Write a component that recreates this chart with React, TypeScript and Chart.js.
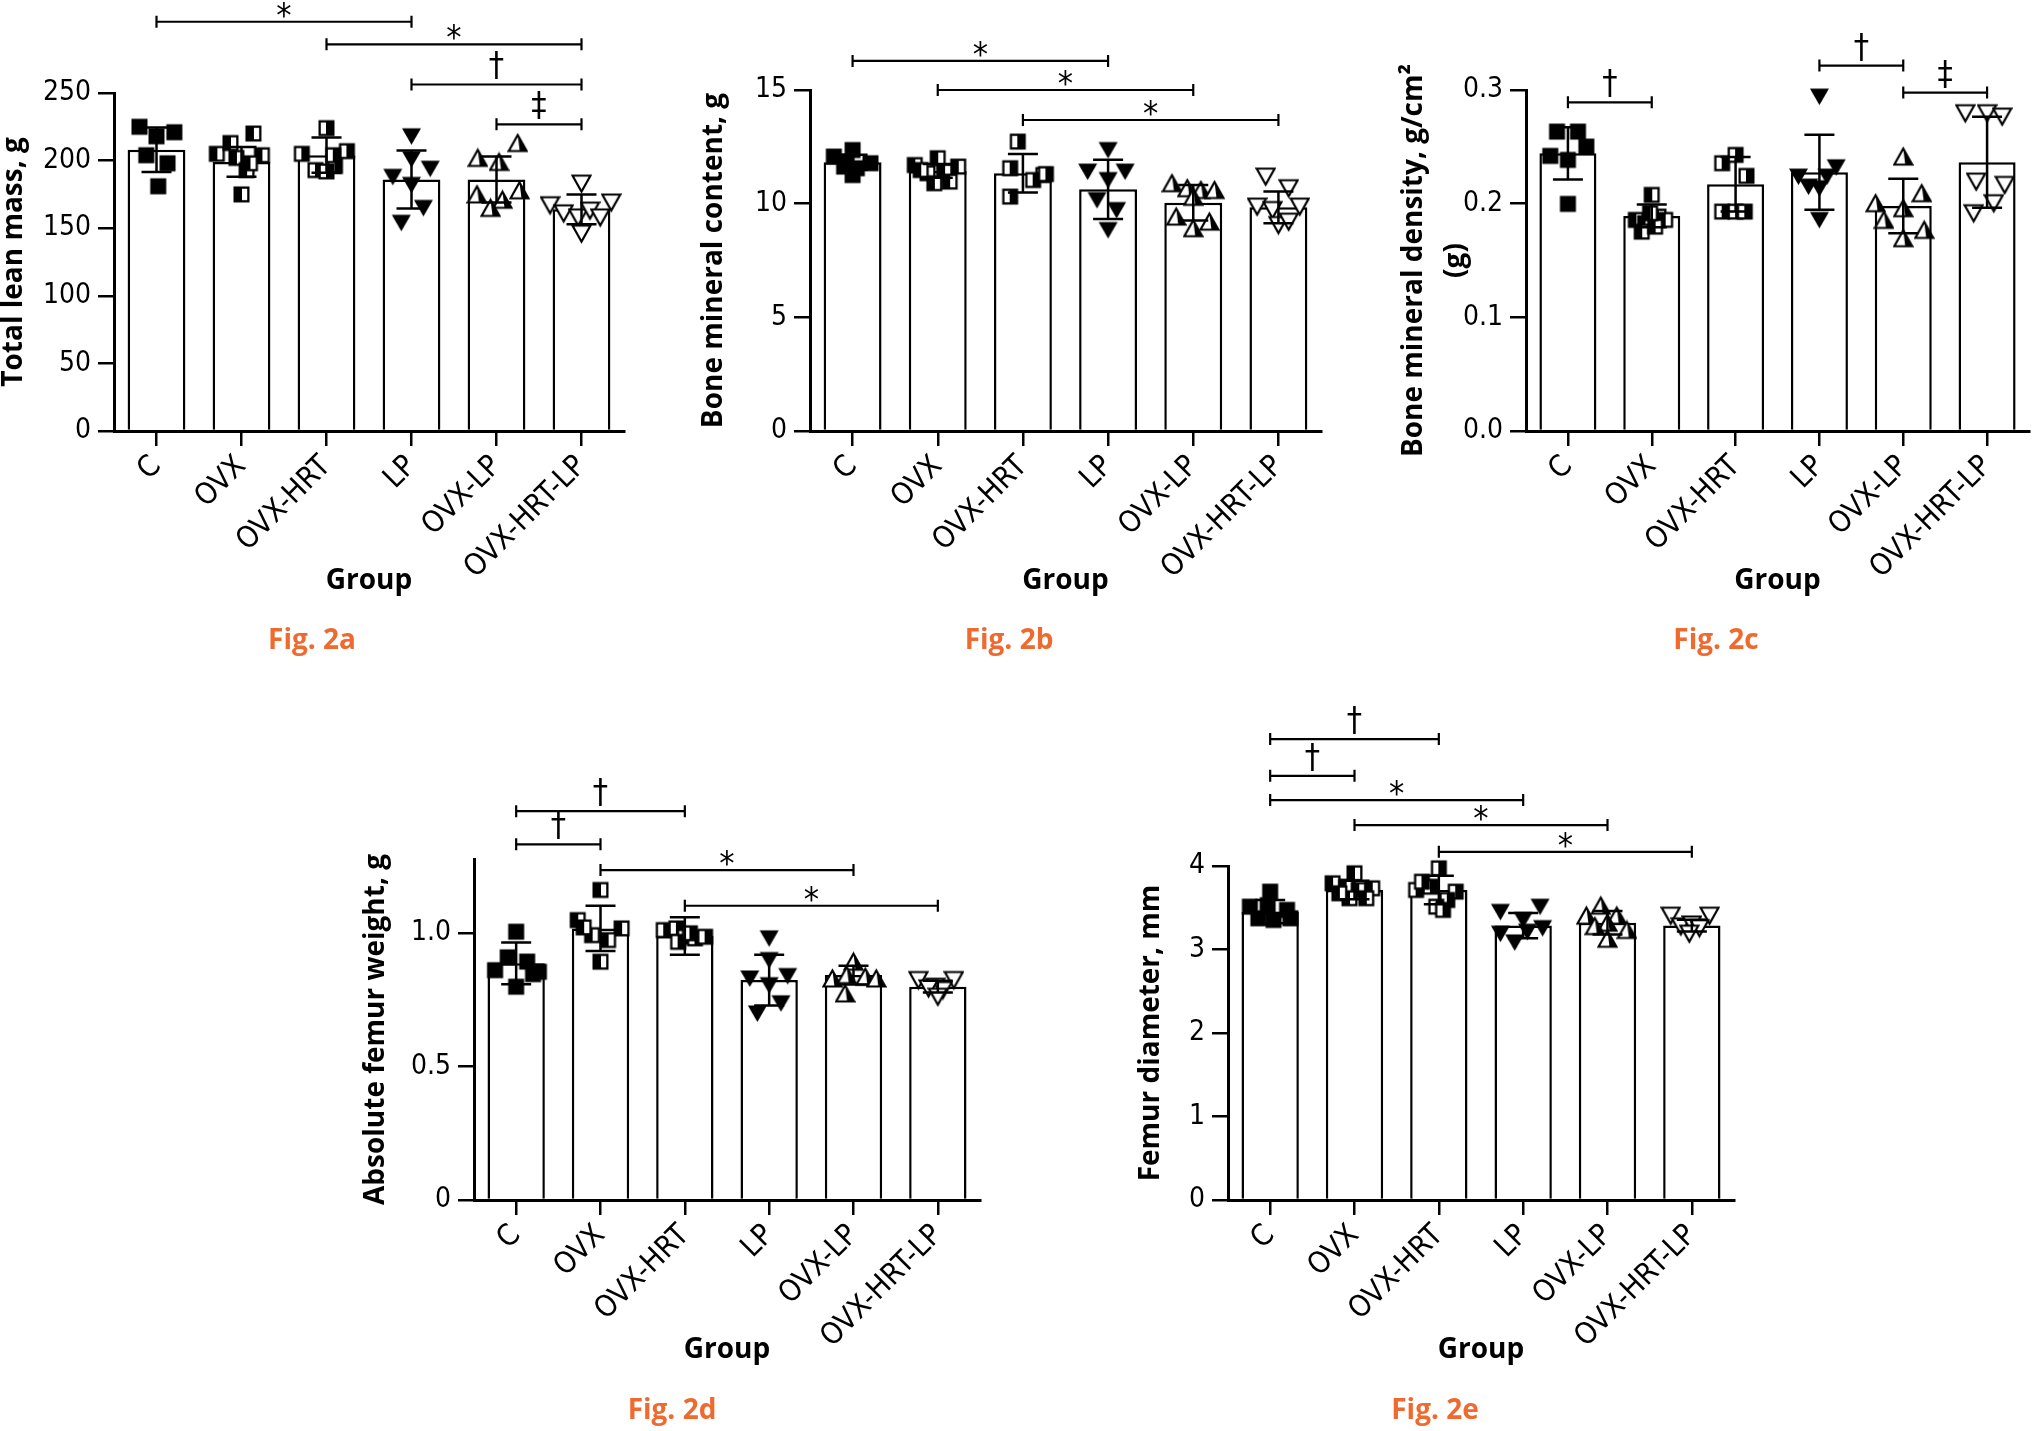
import React, { useEffect, useRef } from 'react';
import { Chart, registerables } from 'chart.js';

Chart.register(...registerables);

// ---------- data ----------
const GROUPS = ['C', 'OVX', 'OVX-HRT', 'LP', 'OVX-LP', 'OVX-HRT-LP'];

// Fig. 2a  Total lean mass, g
const leanMean = [208, 199, 204, 186, 186, 164];
const leanSD = [16.5, 11, 13, 21.5, 17, 11];
const leanPts = [
  [225, 221, 218, 204, 198, 181],
  [205, 213, 220, 202, 204, 193, 175, 198],
  [224, 205, 207, 193, 196, 192, 204],
  [218, 201, 188, 194, 182, 165, 154],
  [213, 202, 199, 175, 178, 171, 165],
  [183, 167, 161, 158, 163, 158, 169, 146],
];
const leanJit = [
  [-0.2, 0.21, 0, -0.12, 0.13, 0.02],
  [-0.29, -0.13, 0.14, -0.06, 0.24, 0.06, 0, 0.1],
  [0, -0.29, 0.24, -0.13, 0.1, 0, 0.08],
  [0, 0, -0.22, 0.22, 0, 0.14, -0.12],
  [0.25, -0.22, 0.03, -0.23, 0.27, 0.07, -0.07],
  [0, -0.37, -0.21, -0.04, 0.1, 0.22, 0.35, 0],
];
const leanTicks = [0, 50, 100, 150, 200, 250];
const leanTickLabels = ['0', '50', '100', '150', '200', '250'];
const leanBrackets = [
  [0, 3, '*', 302.7],
  [2, 5, '*', 286],
  [3, 5, '†', 256.3],
  [4, 5, '‡', 226.8],
];

// Fig. 2b  Bone mineral content, g
const bmcMean = [11.82, 11.44, 11.34, 10.63, 10.04, 9.84];
const bmcSD = [0.33, 0.3, 0.85, 1.3, 0.78, 0.7];
const bmcPts = [
  [12.07, 12.36, 11.63, 11.56, 11.78, 11.26, 11.85],
  [11.7, 12.0, 11.63, 11.34, 11.41, 10.9, 10.97, 11.48],
  [12.73, 11.56, 11.26, 11.04, 10.31, 11.3],
  [12.36, 11.41, 11.41, 11.04, 10.16, 9.72, 8.84],
  [10.9, 10.68, 10.6, 10.6, 9.43, 9.21, 8.92, 10.3],
  [11.19, 10.68, 9.87, 9.87, 9.72, 9.06, 9.21],
];
const bmcJit = [
  [-0.22, 0, -0.1, 0.05, 0.21, 0, -0.07],
  [-0.27, 0, 0.24, -0.12, 0.08, -0.04, 0.14, -0.2],
  [-0.06, -0.15, 0.24, 0.12, -0.15, 0.27],
  [0, -0.24, 0.2, 0, -0.13, 0.1, 0],
  [-0.25, -0.07, 0.09, 0.25, -0.2, 0.19, 0, 0],
  [-0.15, 0.12, -0.25, 0.25, -0.07, 0, 0.12],
];
const bmcTicks = [0, 5, 10, 15];
const bmcTickLabels = ['0', '5', '10', '15'];
const bmcBrackets = [
  [0, 3, '*', 16.28],
  [1, 4, '*', 15.0],
  [2, 5, '*', 13.68],
];

// Fig. 2c  Bone mineral density, g/cm2
const bmdMean = [0.2443, 0.1892, 0.2171, 0.2277, 0.198, 0.2365];
const bmdSD = [0.023, 0.01, 0.024, 0.033, 0.024, 0.04];
const bmdPts = [
  [0.2634, 0.2634, 0.2502, 0.242, 0.2385, 0.1998],
  [0.2077, 0.1857, 0.1828, 0.1886, 0.1857, 0.1754, 0.1798, 0.1916],
  [0.2356, 0.2429, 0.2244, 0.193, 0.193, 0.193],
  [0.2942, 0.2238, 0.215, 0.2136, 0.2238, 0.232, 0.1857],
  [0.2414, 0.2092, 0.2004, 0.196, 0.1857, 0.1769, 0.1696],
  [0.2796, 0.2796, 0.2766, 0.2194, 0.2165, 0.2004, 0.1916],
];
const bmdJit = [
  [-0.13, 0.12, 0.22, -0.21, 0, 0],
  [0, -0.19, -0.08, 0.08, 0.16, -0.12, 0.04, -0.02],
  [-0.16, 0, 0.13, -0.16, 0, 0.11],
  [0, -0.25, -0.13, 0, 0.09, 0.2, 0],
  [0, 0.22, -0.33, 0, -0.23, 0.25, 0],
  [-0.26, 0, 0.18, -0.13, 0.21, 0.08, -0.16],
];
const bmdTicks = [0, 0.1, 0.2, 0.3];
const bmdTickLabels = ['0.0', '0.1', '0.2', '0.3'];
const bmdBrackets = [
  [0, 1, '†', 0.2892],
  [3, 4, '†', 0.3215],
  [4, 5, '‡', 0.2977],
];

// Fig. 2d  Absolute femur weight, g
const fwMean = [0.8855, 1.0164, 0.9877, 0.823, 0.8417, 0.798];
const fwSD = [0.078, 0.085, 0.07, 0.095, 0.035, 0.022];
const fwPts = [
  [1.004, 0.908, 0.86, 0.892, 0.854, 0.845, 0.798],
  [1.16, 1.0475, 1.0164, 0.991, 0.9727, 0.8916, 1.02],
  [1.01, 1.0164, 0.985, 0.979, 0.985, 0.966, 0.998],
  [0.979, 0.8979, 0.829, 0.838, 0.804, 0.736, 0.698],
  [0.8916, 0.829, 0.8417, 0.8355, 0.829, 0.773],
  [0.823, 0.823, 0.798, 0.7856, 0.792, 0.7606],
];
const fwJit = [
  [0, -0.1, -0.25, 0.13, 0.27, 0.2, 0],
  [0, -0.27, 0.25, -0.1, 0.09, 0, -0.2],
  [-0.25, -0.1, 0, 0.12, 0.24, -0.08, 0.06],
  [0, 0, -0.23, 0.22, 0, 0.14, -0.14],
  [0, -0.25, -0.08, 0.14, 0.27, -0.1],
  [-0.23, 0.19, -0.03, 0.06, -0.11, 0],
];
const fwTicks = [0, 0.5, 1.0];
const fwTickLabels = ['0', '0.5', '1.0'];
const fwBrackets = [
  [0, 2, '†', 1.455],
  [0, 1, '†', 1.331],
  [1, 4, '*', 1.2346],
  [2, 5, '*', 1.101],
];

// Fig. 2e  Femur diameter, mm
const fdMean = [3.453, 3.713, 3.713, 3.286, 3.32, 3.286];
const fdSD = [0.14, 0.11, 0.17, 0.15, 0.14, 0.07];
const fdPts = [
  [3.693, 3.513, 3.474, 3.374, 3.354, 3.374, 3.53],
  [3.913, 3.793, 3.752, 3.713, 3.733, 3.614, 3.614, 3.673],
  [3.972, 3.713, 3.752, 3.693, 3.593, 3.513, 3.474, 3.812],
  [3.45, 3.512, 3.354, 3.19, 3.256, 3.213, 3.085],
  [3.525, 3.405, 3.405, 3.32, 3.234, 3.128, 3.28],
  [3.405, 3.405, 3.277, 3.3, 3.256, 3.19],
];
const fdJit = [
  [0, -0.24, 0.2, -0.14, 0.04, 0.24, -0.03],
  [0, -0.26, -0.1, 0.05, 0.21, -0.06, 0.14, -0.18],
  [0, -0.27, -0.1, 0.2, 0.1, -0.03, 0.05, -0.2],
  [-0.27, 0.2, 0, -0.27, 0.23, 0.05, -0.1],
  [-0.08, -0.25, 0.11, 0, 0.23, 0, -0.15],
  [-0.25, 0.21, -0.13, 0, 0.09, -0.03],
];
const fdTicks = [0, 1, 2, 3, 4];
const fdTickLabels = ['0', '1', '2', '3', '4'];
const fdBrackets = [
  [0, 2, '†', 5.52],
  [0, 1, '†', 5.08],
  [0, 3, '*', 4.79],
  [1, 4, '*', 4.49],
  [2, 5, '*', 4.17],
];

// ---------- styles / layout ----------
const TICKF = "'Liberation Sans Narrow', 'DejaVu Sans Condensed', 'Liberation Sans', sans-serif";
const TITLEF = "'Open Sans', 'Liberation Sans', sans-serif";
const ORANGE = '#EE6A2E';

const PANELS: any[] = [
  { cap: 'Fig. 2a', capX: 312, capY: 638, left: 0, top: 0, w: 650, h: 620, pad: { left: 0, top: 93, right: 26, bottom: 25 }, yW: 114, xH: 164,
    title: 'Total lean mass, g', tLH: 1, max: 250, ticks: leanTicks, tickLabels: leanTickLabels,
    mean: leanMean, sd: leanSD, pts: leanPts, jit: leanJit, brackets: leanBrackets },
  { cap: 'Fig. 2b', capX: 1009, capY: 638, left: 700, top: 0, w: 650, h: 620, pad: { left: 0, top: 90, right: 29, bottom: 25 }, yW: 110, xH: 164,
    title: 'Bone mineral content, g', tLH: 1, max: 15, ticks: bmcTicks, tickLabels: bmcTickLabels,
    mean: bmcMean, sd: bmcSD, pts: bmcPts, jit: bmcJit, brackets: bmcBrackets },
  { cap: 'Fig. 2c', capX: 1716, capY: 638, left: 1393, top: 0, w: 645, h: 620, pad: { left: 0, top: 90, right: 6, bottom: 25 }, yW: 133, xH: 164,
    title: ['Bone mineral density, g/cm²', '(g)'], tLH: 1.5, max: 0.3, ticks: bmdTicks, tickLabels: bmdTickLabels,
    mean: bmdMean, sd: bmdSD, pts: bmdPts, jit: bmdJit, brackets: bmdBrackets },
  { cap: 'Fig. 2d', capX: 672, capY: 1408, left: 362, top: 740, w: 650, h: 691, pad: { left: 0, top: 119, right: 32, bottom: 67 }, yW: 112, xH: 164,
    title: 'Absolute femur weight, g', tLH: 1, max: 1.276, ticks: fwTicks, tickLabels: fwTickLabels,
    mean: fwMean, sd: fwSD, pts: fwPts, jit: fwJit, brackets: fwBrackets },
  { cap: 'Fig. 2e', capX: 1435, capY: 1408, left: 1137, top: 680, w: 650, h: 751, pad: { left: 0, top: 186, right: 53, bottom: 67 }, yW: 91, xH: 164,
    title: 'Femur diameter, mm', tLH: 1, max: 4, ticks: fdTicks, tickLabels: fdTickLabels,
    mean: fdMean, sd: fdSD, pts: fdPts, jit: fdJit, brackets: fdBrackets },
];

function makeMarker(kind: number): HTMLCanvasElement {
  const c = document.createElement('canvas');
  c.width = 21;
  c.height = 21;
  const g = c.getContext('2d') as CanvasRenderingContext2D;
  g.fillStyle = '#000';
  g.strokeStyle = '#000';
  g.lineWidth = 2.2;
  g.lineJoin = 'miter';
  const o = 2.5, s = 16;
  if (kind === 0) {
    g.fillRect(o, o, s, s);
  } else if (kind === 1) {
    g.fillRect(o, o, s, s);
    g.fillStyle = '#fff';
    g.fillRect(11, o + 2.3, 5.2, s - 4.6);
  } else if (kind === 2) {
    g.fillRect(o, o, s, s);
    g.fillStyle = '#fff';
    g.fillRect(o + 2.3, o + 2.3, 5.2, s - 4.6);
  } else if (kind === 3) {
    g.beginPath();
    g.moveTo(1, 2.5); g.lineTo(20, 2.5); g.lineTo(10.5, 19); g.closePath();
    g.fill();
  } else if (kind === 4) {
    g.beginPath();
    g.moveTo(10.5, 2.5); g.lineTo(19.5, 18.5); g.lineTo(1.5, 18.5); g.closePath();
    g.fillStyle = '#fff';
    g.fill();
    g.beginPath();
    g.moveTo(10.5, 2.5); g.lineTo(19.5, 18.5); g.lineTo(12.5, 18.5); g.closePath();
    g.fillStyle = '#000';
    g.fill();
    g.beginPath();
    g.moveTo(10.5, 2.5); g.lineTo(19.5, 18.5); g.lineTo(1.5, 18.5); g.closePath();
    g.stroke();
  } else {
    g.beginPath();
    g.moveTo(1.5, 2.5); g.lineTo(19.5, 2.5); g.lineTo(10.5, 18.5); g.closePath();
    g.fillStyle = '#fff';
    g.fill();
    g.stroke();
  }
  return c;
}

const annotPlugin: any = {
  id: 'annot',
  afterDatasetsDraw(chart: any, _args: any, opts: any) {
    const ctx = chart.ctx;
    const xs = chart.scales.x;
    const ys = chart.scales.y;
    ctx.save();
    ctx.strokeStyle = '#000';
    ctx.lineWidth = 2.5;
    const cap = 15;
    (opts.mean || []).forEach((m: number, i: number) => {
      const px = xs.getPixelForValue(i);
      const top = ys.getPixelForValue(m + opts.sd[i]);
      const bot = ys.getPixelForValue(m - opts.sd[i]);
      ctx.beginPath();
      ctx.moveTo(px, top); ctx.lineTo(px, bot);
      ctx.moveTo(px - cap, top); ctx.lineTo(px + cap, top);
      ctx.moveTo(px - cap, bot); ctx.lineTo(px + cap, bot);
      ctx.stroke();
    });
    ctx.lineWidth = 2.2;
    ctx.fillStyle = '#000';
    ctx.textAlign = 'center';
    ctx.textBaseline = 'alphabetic';
    (opts.brackets || []).forEach((b: any[]) => {
      const x1 = xs.getPixelForValue(b[0]);
      const x2 = xs.getPixelForValue(b[1]);
      const py = ys.getPixelForValue(b[3]);
      ctx.beginPath();
      ctx.moveTo(x1, py); ctx.lineTo(x2, py);
      ctx.moveTo(x1, py - 6); ctx.lineTo(x1, py + 6);
      ctx.moveTo(x2, py - 6); ctx.lineTo(x2, py + 6);
      ctx.stroke();
      const cx = (x1 + x2) / 2;
      if (b[2] === '*') {
        ctx.font = `34px ${TICKF}`;
        ctx.fillText('*', cx, py + 5);
      } else {
        ctx.font = `34px ${TICKF}`;
        ctx.fillText(b[2], cx, py - 8);
      }
    });
    ctx.restore();
  },
};

function Panel({ cfg }: { cfg: any }) {
  const ref = useRef<HTMLCanvasElement | null>(null);
  useEffect(() => {
    const markers = [0, 1, 2, 3, 4, 5].map(makeMarker);
    const scatterSets = cfg.pts.map((vals: number[], gi: number) => ({
      type: 'scatter',
      xAxisID: 'xs',
      yAxisID: 'y',
      order: 1,
      clip: false,
      data: vals.map((v: number, k: number) => ({ x: gi + cfg.jit[gi][k], y: v })),
      pointStyle: markers[gi],
      pointRadius: 8,
      showLine: false,
    }));
    const chart = new Chart(ref.current as HTMLCanvasElement, {
      type: 'bar',
      data: {
        labels: GROUPS,
        datasets: [
          {
            type: 'bar',
            xAxisID: 'x',
            yAxisID: 'y',
            order: 2,
            grouped: false,
            data: cfg.mean,
            backgroundColor: '#fff',
            borderColor: '#000',
            borderWidth: 2.5,
            categoryPercentage: 1,
            barPercentage: 0.68,
          },
          ...scatterSets,
        ] as any,
      },
      options: {
        responsive: false,
        animation: false,
        devicePixelRatio: 1,
        events: [],
        layout: { padding: cfg.pad },
        plugins: {
          legend: { display: false },
          tooltip: { enabled: false },
          annot: { mean: cfg.mean, sd: cfg.sd, brackets: cfg.brackets },
        } as any,
        scales: {
          x: {
            type: 'category',
            offset: true,
            grid: { display: true, drawOnChartArea: false, drawTicks: true, tickLength: 15, offset: false, color: '#000', lineWidth: 2.5 },
            border: { display: true, color: '#000', width: 3 },
            ticks: { color: '#000', font: { family: TICKF, size: 30 }, minRotation: 45, maxRotation: 45, autoSkip: false, padding: 3 },
            title: { display: true, text: 'Group', color: '#000', font: { family: TITLEF, size: 28, weight: 'bold', lineHeight: 1 }, padding: 0 },
            afterFit: (s: any) => { s.height = cfg.xH; },
          },
          xs: { type: 'linear', display: false, offset: false, grace: 0, min: -0.5, max: 5.5, grid: { offset: false } },
          y: {
            type: 'linear',
            min: 0,
            max: cfg.max,
            afterBuildTicks: (s: any) => { s.ticks = cfg.ticks.map((v: number) => ({ value: v })); },
            grid: { display: true, drawOnChartArea: false, drawTicks: true, tickLength: 16, color: '#000', lineWidth: 2.5 },
            border: { display: true, color: '#000', width: 3 },
            ticks: { color: '#000', font: { family: TICKF, size: 28 }, padding: 7, callback: (_v: any, i: number) => cfg.tickLabels[i] },
            title: { display: true, text: cfg.title, color: '#000', font: { family: TITLEF, size: 28, weight: 'bold', lineHeight: cfg.tLH }, padding: 0 },
            afterFit: (s: any) => { s.width = cfg.yW; },
          },
        } as any,
      },
      plugins: [annotPlugin],
    } as any);
    return () => chart.destroy();
  }, []);
  return (
    <canvas
      ref={ref}
      width={cfg.w}
      height={cfg.h}
      style={{ position: 'absolute', left: cfg.left, top: cfg.top, width: cfg.w, height: cfg.h }}
    />
  );
}

export default function App() {
  return (
    <div style={{ position: 'absolute', left: 0, top: 0, width: 2038, height: 1431, background: '#fff', overflow: 'hidden' }}>
      {PANELS.map((p, i) => (
        <Panel key={i} cfg={p} />
      ))}
      {PANELS.map((p, i) => (
        <div
          key={'c' + i}
          style={{
            position: 'absolute',
            left: p.capX,
            top: p.capY,
            transform: 'translate(-50%, -50%)',
            color: ORANGE,
            fontFamily: TITLEF,
            fontWeight: 700,
            fontSize: 28,
            whiteSpace: 'nowrap',
            lineHeight: 1,
          }}
        >
          {p.cap}
        </div>
      ))}
    </div>
  );
}
